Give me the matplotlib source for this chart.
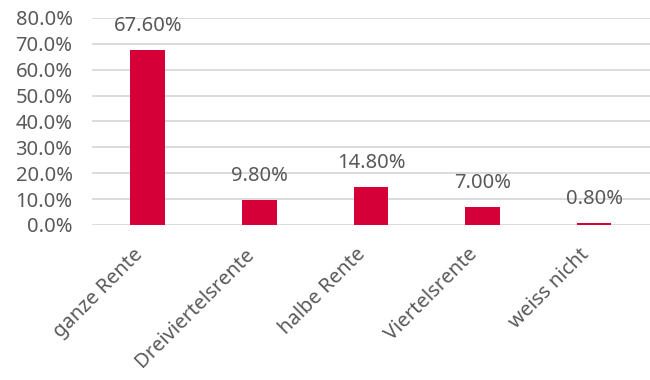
import matplotlib.pyplot as plt
import matplotlib.transforms as mtransforms
import numpy as np

categories = ['ganze Rente', 'Dreiviertelsrente', 'halbe Rente', 'Viertelsrente', 'weiss nicht']
shares = [0.676, 0.098, 0.148, 0.070, 0.008]
y_ticks = [0.0, 0.1, 0.2, 0.3, 0.4, 0.5, 0.6, 0.7, 0.8]

plt.rcParams['font.family'] = ['Noto Sans', 'DejaVu Sans']
text_color = '#595959'
fs = 14.5

fig = plt.figure(figsize=(6.5, 3.8), dpi=100)
ax = fig.add_axes([0.1415, 0.408, 0.8585, 0.545])

x = np.arange(len(categories))
bars = ax.bar(x, shares, width=0.31, color='#D50037', zorder=3)

for xi, v in zip(x, shares):
    ax.annotate(f'{v * 100:.2f}%', (xi, v), xytext=(0, 10), textcoords='offset points',
                ha='center', va='bottom', fontsize=fs, color=text_color)

ax.set_xlim(-0.5, len(categories) - 0.5)
ax.set_ylim(0, 0.8)
ax.set_yticks(y_ticks)
ax.set_yticklabels([f'{t * 100:.1f}%' for t in y_ticks], fontsize=fs, color=text_color)
ax.set_xticks(x)
ax.set_xticklabels(categories, rotation=45, ha='right', rotation_mode='anchor',
                   fontsize=fs, color=text_color)
ax.tick_params(length=0)
ax.tick_params(axis='y', pad=14)
ax.tick_params(axis='x', pad=14)

# nudge the slanted category labels a bit to the left
shift = mtransforms.ScaledTranslation(-11 / 72, 0, fig.dpi_scale_trans)
for lbl in ax.get_xticklabels():
    lbl.set_transform(lbl.get_transform() + shift)

ax.yaxis.grid(True, color='#D9D9D9', linewidth=1.3, zorder=0)
for s in ax.spines.values():
    s.set_visible(False)

fig.savefig('out.png', dpi=100)
